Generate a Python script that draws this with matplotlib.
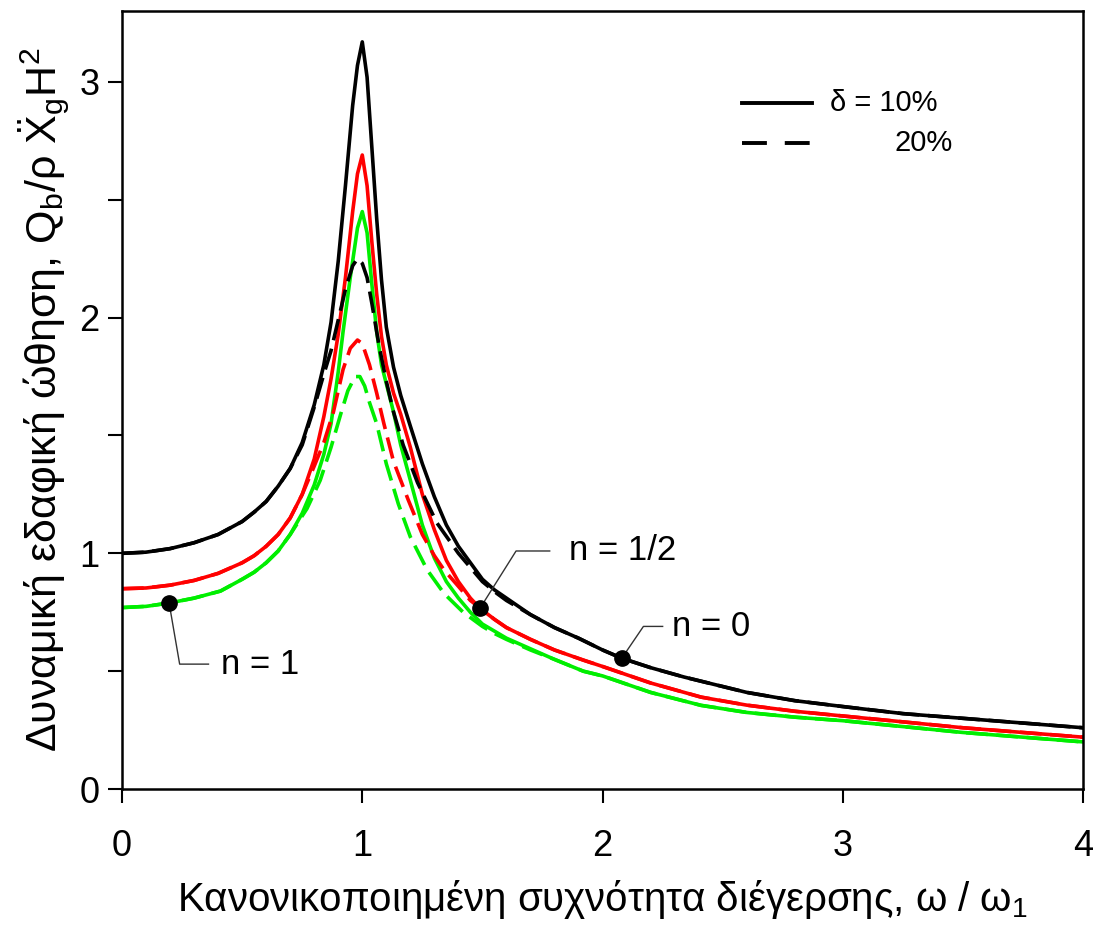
import matplotlib
matplotlib.use("Agg")
import matplotlib.pyplot as plt

plt.rcParams['font.family'] = ['Liberation Sans', 'DejaVu Sans']
plt.rcParams['mathtext.fontset'] = 'custom'
plt.rcParams['mathtext.rm'] = 'Liberation Sans'
plt.rcParams['mathtext.it'] = 'Liberation Sans:italic'

# ---- data ----
# delta = 10 %  (solid lines)
w_n0_d10 = [0, 0.1, 0.2, 0.3, 0.4, 0.5, 0.55, 0.6, 0.65, 0.7, 0.75, 0.8, 0.84, 0.87, 0.9,
            0.93, 0.96, 0.98, 1.0, 1.02, 1.04, 1.06, 1.08, 1.10, 1.13, 1.16, 1.2, 1.25,
            1.3, 1.35, 1.4, 1.45, 1.5, 1.55, 1.6, 1.7, 1.8, 1.9, 2.0, 2.08, 2.2, 2.34,
            2.5, 2.6, 2.8, 3.0, 3.25, 3.5, 3.75, 4.0]
q_n0_d10 = [1.0, 1.005, 1.02, 1.045, 1.08, 1.135, 1.175, 1.22, 1.285, 1.36, 1.47, 1.63, 1.80,
            1.98, 2.24, 2.56, 2.90, 3.07, 3.17, 3.02, 2.72, 2.42, 2.16, 1.96, 1.79, 1.67,
            1.54, 1.38, 1.24, 1.12, 1.03, 0.96, 0.89, 0.845, 0.81, 0.74, 0.685, 0.64, 0.59,
            0.555, 0.515, 0.475, 0.435, 0.41, 0.375, 0.35, 0.32, 0.30, 0.28, 0.26]

w_n05_d10 = [0, 0.1, 0.2, 0.3, 0.4, 0.5, 0.55, 0.6, 0.65, 0.7, 0.75, 0.8, 0.84, 0.87, 0.9,
             0.93, 0.96, 0.98, 1.0, 1.02, 1.04, 1.06, 1.08, 1.10, 1.13, 1.16, 1.2, 1.25,
             1.3, 1.35, 1.4, 1.45, 1.49, 1.55, 1.6, 1.7, 1.8, 1.92, 2.0, 2.2, 2.41, 2.6,
             2.8, 3.0, 3.25, 3.5, 3.75, 4.0]
q_n05_d10 = [0.85, 0.853, 0.865, 0.885, 0.915, 0.96, 0.99, 1.03, 1.08, 1.15, 1.25, 1.40, 1.58,
             1.74, 1.93, 2.17, 2.45, 2.61, 2.69, 2.56, 2.32, 2.10, 1.92, 1.80, 1.68, 1.59,
             1.45, 1.25, 1.10, 0.97, 0.88, 0.81, 0.767, 0.72, 0.685, 0.635, 0.59, 0.547,
             0.52, 0.45, 0.39, 0.356, 0.33, 0.31, 0.285, 0.26, 0.24, 0.22]

w_n1_d10 = [0, 0.1, 0.2, 0.3, 0.41, 0.5, 0.55, 0.6, 0.65, 0.7, 0.75, 0.8, 0.84, 0.87, 0.9,
            0.92, 0.95, 0.98, 1.0, 1.02, 1.04, 1.06, 1.08, 1.1, 1.13, 1.16, 1.2, 1.25, 1.3,
            1.35, 1.4, 1.45, 1.5, 1.6, 1.7, 1.8, 1.92, 2.0, 2.2, 2.41, 2.6, 2.8, 3.0, 3.25,
            3.5, 3.75, 4.0]
q_n1_d10 = [0.77, 0.775, 0.79, 0.81, 0.84, 0.89, 0.92, 0.96, 1.01, 1.08, 1.17, 1.29, 1.42,
            1.55, 1.77, 1.94, 2.17, 2.38, 2.45, 2.36, 2.14, 1.94, 1.80, 1.72, 1.60, 1.46,
            1.31, 1.12, 0.98, 0.88, 0.81, 0.75, 0.70, 0.64, 0.595, 0.55, 0.50, 0.48, 0.41,
            0.355, 0.325, 0.305, 0.29, 0.265, 0.24, 0.22, 0.20]

# delta = 20 %  (dashed lines)
w_n0_d20 = [0, 0.1, 0.2, 0.3, 0.4, 0.5, 0.55, 0.6, 0.65, 0.7, 0.75, 0.8, 0.84, 0.87, 0.9,
            0.93, 0.96, 0.98, 1.0, 1.02, 1.04, 1.07, 1.1, 1.13, 1.17, 1.23, 1.31, 1.4, 1.5,
            1.56, 1.6, 1.7, 1.8, 1.9, 2.0, 2.08, 2.2, 2.34, 2.5, 2.6, 2.8, 3.0, 3.25, 3.5,
            3.75, 4.0]
q_n0_d20 = [1.0, 1.005, 1.02, 1.045, 1.08, 1.135, 1.175, 1.22, 1.285, 1.36, 1.46, 1.62, 1.76,
            1.86, 1.99, 2.12, 2.22, 2.25, 2.23, 2.17, 2.06, 1.88, 1.73, 1.60, 1.46, 1.30,
            1.13, 1.00, 0.88, 0.83, 0.80, 0.74, 0.685, 0.64, 0.59, 0.555, 0.515, 0.475,
            0.435, 0.41, 0.375, 0.35, 0.32, 0.30, 0.28, 0.26]

w_n05_d20 = [0, 0.1, 0.2, 0.3, 0.4, 0.5, 0.55, 0.6, 0.65, 0.7, 0.75, 0.8, 0.84, 0.88, 0.92,
             0.95, 0.98, 1.0, 1.03, 1.06, 1.09, 1.13, 1.19, 1.25, 1.3, 1.34, 1.4, 1.45, 1.5,
             1.55, 1.6, 1.7, 1.8, 1.92, 2.0, 2.2, 2.41, 2.6, 2.8, 3.0, 3.25, 3.5, 3.75, 4.0]
q_n05_d20 = [0.85, 0.853, 0.865, 0.885, 0.915, 0.96, 0.99, 1.03, 1.08, 1.15, 1.25, 1.37, 1.47,
             1.60, 1.78, 1.87, 1.905, 1.89, 1.80, 1.68, 1.55, 1.39, 1.23, 1.08, 0.99, 0.93,
             0.86, 0.80, 0.76, 0.72, 0.685, 0.635, 0.59, 0.547, 0.52, 0.45, 0.39, 0.356,
             0.33, 0.31, 0.285, 0.26, 0.24, 0.22]

w_n1_d20 = [0, 0.1, 0.2, 0.3, 0.41, 0.5, 0.55, 0.6, 0.65, 0.7, 0.77, 0.825, 0.87, 0.91, 0.94,
            0.97, 0.99, 1.01, 1.03, 1.06, 1.10, 1.15, 1.20, 1.27, 1.34, 1.42, 1.5, 1.55, 1.6,
            1.7, 1.8, 1.92, 2.0, 2.2, 2.41, 2.6, 2.8, 3.0, 3.25, 3.5, 3.75, 4.0]
q_n1_d20 = [0.77, 0.775, 0.79, 0.81, 0.84, 0.89, 0.92, 0.96, 1.01, 1.08, 1.19, 1.31, 1.45,
            1.59, 1.69, 1.75, 1.75, 1.71, 1.64, 1.55, 1.38, 1.21, 1.07, 0.93, 0.83, 0.75,
            0.69, 0.66, 0.635, 0.59, 0.55, 0.50, 0.48, 0.41, 0.355, 0.325, 0.305, 0.29,
            0.265, 0.24, 0.22, 0.20]

# labelled points
mark_w = [0.196, 1.49, 2.08]
mark_q = [0.79, 0.767, 0.555]
mark_lbl = ['n = 1', 'n = 1/2', 'n = 0']

xticks = [0, 1, 2, 3, 4]
yticks = [0, 1, 2, 3]

# ---- figure ----
fig = plt.figure(figsize=(10.93, 9.36), dpi=100)
ax = fig.add_axes([0.1116, 0.157, 0.8794, 0.831])

lw = 2.6
dash = (6, 2.4)
ax.plot(w_n0_d10, q_n0_d10, color='black', lw=lw, solid_joinstyle='round')
ax.plot(w_n05_d10, q_n05_d10, color='#ff0000', lw=lw, solid_joinstyle='round')
ax.plot(w_n1_d10, q_n1_d10, color='#00ee00', lw=lw, solid_joinstyle='round')
ax.plot(w_n0_d20, q_n0_d20, color='black', lw=lw, dashes=dash)
ax.plot(w_n05_d20, q_n05_d20, color='#ff0000', lw=lw, dashes=dash)
ax.plot(w_n1_d20, q_n1_d20, color='#00ee00', lw=lw, dashes=dash)

ax.plot(mark_w, mark_q, 'o', color='black', ms=11, zorder=5)

# leader lines from each marker to its label
leader = [
    [(0.196, 0.79), (0.24, 0.53), (0.36, 0.53)],
    [(1.49, 0.767), (1.64, 1.01), (1.78, 1.01)],
    [(2.08, 0.555), (2.17, 0.69), (2.25, 0.69)],
]
text_pos = [(0.41, 0.53), (1.86, 1.01), (2.29, 0.69)]
for pts, tp, lbl in zip(leader, text_pos, mark_lbl):
    ax.plot([p[0] for p in pts], [p[1] for p in pts], color='#333333', lw=1.0, zorder=4)
    ax.text(tp[0], tp[1], lbl, fontsize=25, va='center', ha='left')

# legend drawn manually
ax.plot([0.645, 0.718], [0.882, 0.882], transform=ax.transAxes, color='black', lw=2.8)
ax.plot([0.645, 0.718], [0.831, 0.831], transform=ax.transAxes, color='black', lw=2.8,
        dashes=(6.4, 4.6))
ax.text(0.737, 0.882, 'δ = 10%', transform=ax.transAxes, fontsize=21, va='center')
ax.text(0.804, 0.831, '20%', transform=ax.transAxes, fontsize=21, va='center')

ax.set_xlim(0, 4)
ax.set_ylim(0, 3.3)
ax.set_xticks(xticks)
ax.set_yticks(yticks)
ax.set_yticks([0.5, 1.5, 2.5], minor=True)
ax.tick_params(axis='both', which='both', direction='out', length=10, width=1.5,
               labelsize=26)
ax.tick_params(axis='x', pad=19)
ax.tick_params(axis='y', pad=6)
for s in ax.spines.values():
    s.set_linewidth(1.8)

ax.set_xlabel('Κανονικοποιημένη συχνότητα διέγερσης, ω / ω$_\\mathregular{1}$',
              fontsize=29, labelpad=10)
ax.set_ylabel('Δυναμική εδαφική ώθηση, Q$_\\mathregular{b}$/ρ $\\ddot{\\mathregular{X}}$$_\\mathregular{g}$H$^\\mathregular{2}$',
              fontsize=31, labelpad=6)

fig.savefig('out.png', dpi=100)
